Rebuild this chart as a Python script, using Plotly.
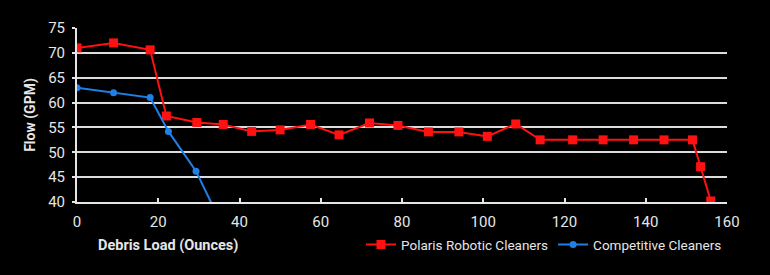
import plotly.graph_objects as go

polaris_x = [0, 9, 18, 22, 29.5, 36, 43, 50, 57.5, 64.5, 72, 79, 86.5, 94, 101, 108, 114, 122, 129.5, 137, 144.5, 151.5, 153.5, 156]
polaris_y = [71, 72, 70.6, 57.3, 56, 55.6, 54.2, 54.5, 55.6, 53.5, 55.9, 55.4, 54.1, 54.1, 53.2, 55.7, 52.5, 52.5, 52.5, 52.5, 52.5, 52.5, 47.1, 40.2]
comp_x = [0, 9, 18, 22.5, 29.3, 36.5]
comp_y = [63, 62, 61, 54.2, 46.2, 34]

x_ticks = [0, 20, 40, 60, 80, 100, 120, 140, 160]
y_ticks = [40, 45, 50, 55, 60, 65, 70, 75]

RED = "#ff1111"
BLUE = "#1f80e8"
FG = "#e6e6e6"
FONT = "Roboto"

fig = go.Figure()
fig.add_trace(go.Scatter(
    x=polaris_x, y=polaris_y, mode="lines+markers", name="Polaris Robotic Cleaners",
    line=dict(color=RED, width=2), marker=dict(symbol="square", size=9, color=RED),
))
fig.add_trace(go.Scatter(
    x=comp_x, y=comp_y, mode="lines+markers", name="Competitive Cleaners",
    line=dict(color=BLUE, width=2), marker=dict(symbol="circle", size=7, color=BLUE),
))

fig.update_layout(
    width=770, height=275,
    margin=dict(l=77, r=43, t=28, b=73),
    paper_bgcolor="black", plot_bgcolor="black",
    font=dict(family=FONT, color=FG, size=15),
    showlegend=True,
    legend=dict(orientation="h", x=1.0, xanchor="right", y=-0.245, yanchor="middle",
                font=dict(size=13.5, color=FG), bgcolor="rgba(0,0,0,0)",
                itemwidth=30, tracegroupgap=0),
    xaxis=dict(range=[0, 160], tickvals=x_ticks, ticks="inside", ticklen=4, tickcolor=FG,
               tickwidth=2, showgrid=False, showline=True, linecolor=FG, linewidth=2,
               zeroline=False, tickfont=dict(size=15, color=FG), ticklabelstandoff=5),
    yaxis=dict(range=[40, 75], tickvals=y_ticks, ticks="outside", ticklen=3, tickcolor=FG,
               tickwidth=2, showgrid=True, gridcolor="#dcdcdc", gridwidth=2,
               showline=True, linecolor=FG, linewidth=2, zeroline=False,
               tickfont=dict(size=15, color=FG), ticklabelstandoff=4,
               title=dict(text="<b>Flow (GPM)</b>", font=dict(size=14, color=FG), standoff=9)),
    annotations=[dict(text="<b>Debris Load (Ounces)</b>", xref="paper", yref="paper",
                      x=0.14, y=-0.25, xanchor="center", yanchor="middle", showarrow=False,
                      font=dict(size=14.5, color=FG))],
)

fig.write_html("out.html")
